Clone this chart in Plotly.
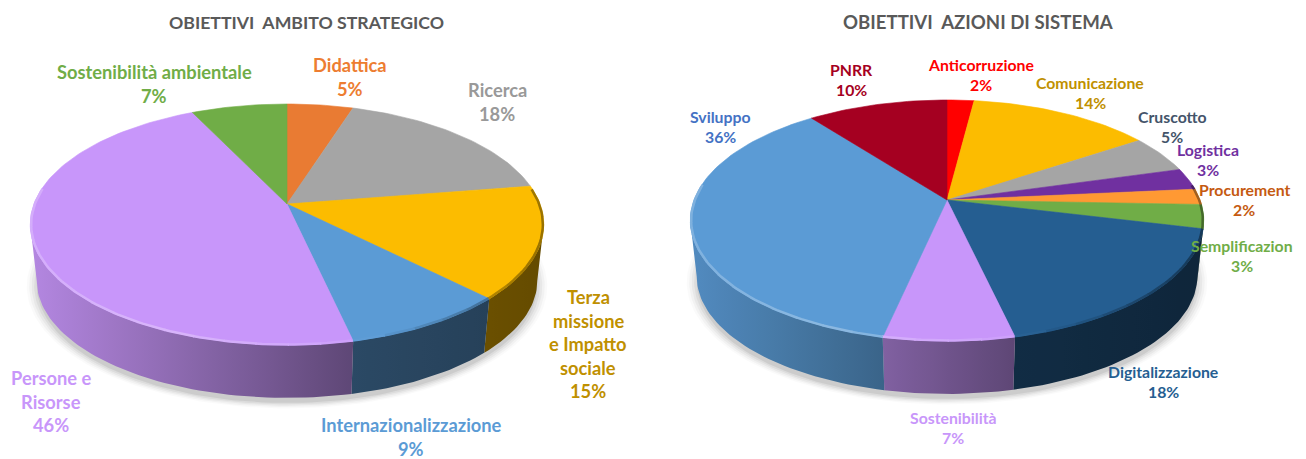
import math
import plotly.graph_objects as go

# ---- data ----
left_title = "OBIETTIVI  AMBITO STRATEGICO"
left_labels = ["Didattica", "Ricerca", "Terza\nmissione\ne Impatto\nsociale", "Internazionalizzazione", "Persone e\nRisorse", "Sostenibilità ambientale"]
left_values = [4.9, 17.6, 15.1, 8.9, 46.4, 7.1]
left_colors = ["#E97B33", "#A5A5A5", "#FCBC00", "#5B9BD5", "#C896FA", "#70AD47"]
left_text_colors = ["#ED7D31", "#999999", "#BF9000", "#5B9BD5", "#C896FA", "#70AD47"]
left_label_pos = [(350, 65), (497, 90), (588, 297), (411, 425), (51, 378), (154, 72)]

right_title = "OBIETTIVI  AZIONI DI SISTEMA"
right_labels = ["Anticorruzione", "Comunicazione", "Cruscotto", "Logistica", "Procurement", "Semplificazion", "Digitalizzazione", "Sostenibilità", "Sviluppo", "PNRR"]
right_values = [2, 13.6, 5, 2.9, 2.1, 3.2, 17.6, 7, 36.2, 10.4]
right_colors = ["#FF0000", "#FCBC00", "#A5A5A5", "#7030A0", "#FF9933", "#70AD47", "#255E91", "#C896FA", "#5B9BD5", "#A50021"]
right_text_colors = ["#FF0000", "#BF9000", "#44546A", "#7030A0", "#C55A11", "#70AD47", "#255E91", "#C896FA", "#4472C4", "#A50021"]
right_label_pos = [(981, 64), (1090, 82), (1172, 116), (1208, 149), (1244, 189), (1242, 245), (1163, 371), (953, 417), (720, 116), (851, 69)]

# ---- projection of a tilted disc (pixel-like axis units) ----
A, B, K = 253.0, 117.0, 0.17
DEPTH, BASE_SCALE = 56.5, 0.975
FONT = "Lato, Carlito, Calibri, sans-serif"


def project(theta, cx, cy, scale=1.0, drop=0.0):
    u, v = math.sin(theta), math.cos(theta)
    w = 1 + K * v
    return cx + scale * A * u / w, cy + drop - scale * B * v / w


def arc(t0, t1, cx, cy, scale=1.0, drop=0.0):
    n = max(2, int(abs(t1 - t0) / math.radians(1.5)) + 2)
    pts = [project(t0 + (t1 - t0) * i / (n - 1), cx, cy, scale, drop) for i in range(n)]
    return [p[0] for p in pts], [p[1] for p in pts]


def shade(color, f):
    r, g, b = int(color[1:3], 16), int(color[3:5], 16), int(color[5:7], 16)
    if f > 1:
        return f"rgb({r+(255-r)*(f-1):.0f},{g+(255-g)*(f-1):.0f},{b+(255-b)*(f-1):.0f})"
    return f"rgb({r*f:.0f},{g*f:.0f},{b*f:.0f})"


def wall_factor(frac):
    stops = [(0.0, 0.9), (0.63, 0.47), (1.0, 0.4)]
    for (a, fa), (b, fb) in zip(stops, stops[1:]):
        if frac <= b:
            return fa + (fb - fa) * (max(frac, a) - a) / (b - a)
    return stops[-1][1]


def rim_factor(frac):
    stops = [(0.0, 1.22), (0.3, 1.3), (0.62, 1.12), (0.78, 0.9), (1.0, 0.6)]
    for (a, fa), (b, fb) in zip(stops, stops[1:]):
        if frac <= b:
            return fa + (fb - fa) * (max(frac, a) - a) / (b - a)
    return stops[-1][1]


def add_pie(fig, values, colors, cx, cy):
    # soft ground shadow
    for grow, alpha in [(1.04, 0.02), (1.03, 0.03), (1.02, 0.04), (1.01, 0.05), (1.0, 0.07)]:
        xs, ys = arc(0, 2 * math.pi, cx, cy, grow * BASE_SCALE, DEPTH + 5)
        fig.add_trace(go.Scatter(x=xs, y=ys, mode="lines", line=dict(width=0), fill="toself",
                                 fillcolor=f"rgba(0,0,0,{alpha})", hoverinfo="skip"))
    total = sum(values)
    edges = [0.0]
    for val in values:
        edges.append(edges[-1] + val / total * 2 * math.pi)
    x_lo, x_hi = cx - A * 1.015, cx + A * 1.015
    # side walls: only the front part of the disc (angles where it faces the viewer)
    vis0, vis1 = math.acos(-K), 2 * math.pi - math.acos(-K)
    for i, color in enumerate(colors):
        t0, t1 = max(edges[i], vis0), min(edges[i + 1], vis1)
        if t1 <= t0:
            continue
        tx, ty = arc(t0, t1, cx, cy)
        bx, by = arc(t1, t0, cx, cy, BASE_SCALE, DEPTH)
        x0, x1 = min(tx + bx), max(tx + bx)
        n = 8
        scale = []
        for j in range(n + 1):
            fr = j / n
            xp = x0 + (x1 - x0) * fr
            scale.append([fr, shade(color, wall_factor((xp - x_lo) / (x_hi - x_lo)))])
        fig.add_trace(go.Scatter(
            x=tx + bx + tx[:1], y=ty + by + ty[:1], mode="lines", line=dict(width=0),
            fill="toself", fillcolor=scale[n // 2][1],
            fillgradient=dict(type="horizontal", colorscale=scale, start=x0, stop=x1),
            hoverinfo="skip"))
    # top surface slices
    for i, color in enumerate(colors):
        ax, ay = arc(edges[i], edges[i + 1], cx, cy)
        fig.add_trace(go.Scatter(
            x=[cx] + ax + [cx], y=[cy] + ay + [cy], mode="lines", line=dict(width=0.6, color=color),
            fill="toself", fillcolor=color, hoverinfo="skip"))
    # bevel on the front rim: light on the left, dark on the right
    for i, color in enumerate(colors):
        t0, t1 = max(edges[i], vis0 - 0.3), min(edges[i + 1], vis1 + 0.3)
        if t1 <= t0:
            continue
        steps = max(1, int((t1 - t0) / math.radians(6)))
        for s in range(steps):
            a0 = t0 + (t1 - t0) * s / steps
            a1 = t0 + (t1 - t0) * (s + 1) / steps
            rx, ry = arc(a0, a1 + 0.004, cx, cy, 0.9965, 0)
            frac = (rx[0] - x_lo) / (x_hi - x_lo)
            fig.add_trace(go.Scatter(x=rx, y=ry, mode="lines", hoverinfo="skip",
                                     line=dict(width=2.5, color=shade(color, rim_factor(frac)))))


def add_labels(fig, labels, values, colors, positions, size, spacing):
    for lab, val, col, (x, y) in zip(labels, values, colors, positions):
        for k, line in enumerate(lab.split("\n") + [f"{round(val)}%"]):
            fig.add_annotation(x=x, y=y + k * spacing, xref="x", yref="y", text=f"<b>{line}</b>",
                               showarrow=False, xanchor="center", yanchor="middle",
                               font=dict(family=FONT, size=size, color=col))


fig = go.Figure()
add_pie(fig, left_values, left_colors, 287, 204)
add_pie(fig, right_values, right_colors, 947, 200)
add_labels(fig, left_labels, left_values, left_text_colors, left_label_pos, 18.3, 23.6)
add_labels(fig, right_labels, right_values, right_text_colors, right_label_pos, 15.8, 20.5)
for title, x, size in [(left_title, 306, 17.7), (right_title, 978, 18.6)]:
    fig.add_annotation(x=x, y=22, xref="x", yref="y", text=f"<b>{title}</b>", showarrow=False,
                       font=dict(family=FONT, size=size, color="#595959"))

fig.update_layout(
    width=1306, height=459, margin=dict(l=0, r=0, t=0, b=0), showlegend=False,
    paper_bgcolor="white", plot_bgcolor="white",
    xaxis=dict(range=[0, 1306], visible=False, fixedrange=True),
    yaxis=dict(range=[459, 0], visible=False, fixedrange=True),
)
fig.write_html("out.html", config=dict(displayModeBar=False),
               post_script="document.body.style.margin='0';document.body.style.overflow='hidden';")
